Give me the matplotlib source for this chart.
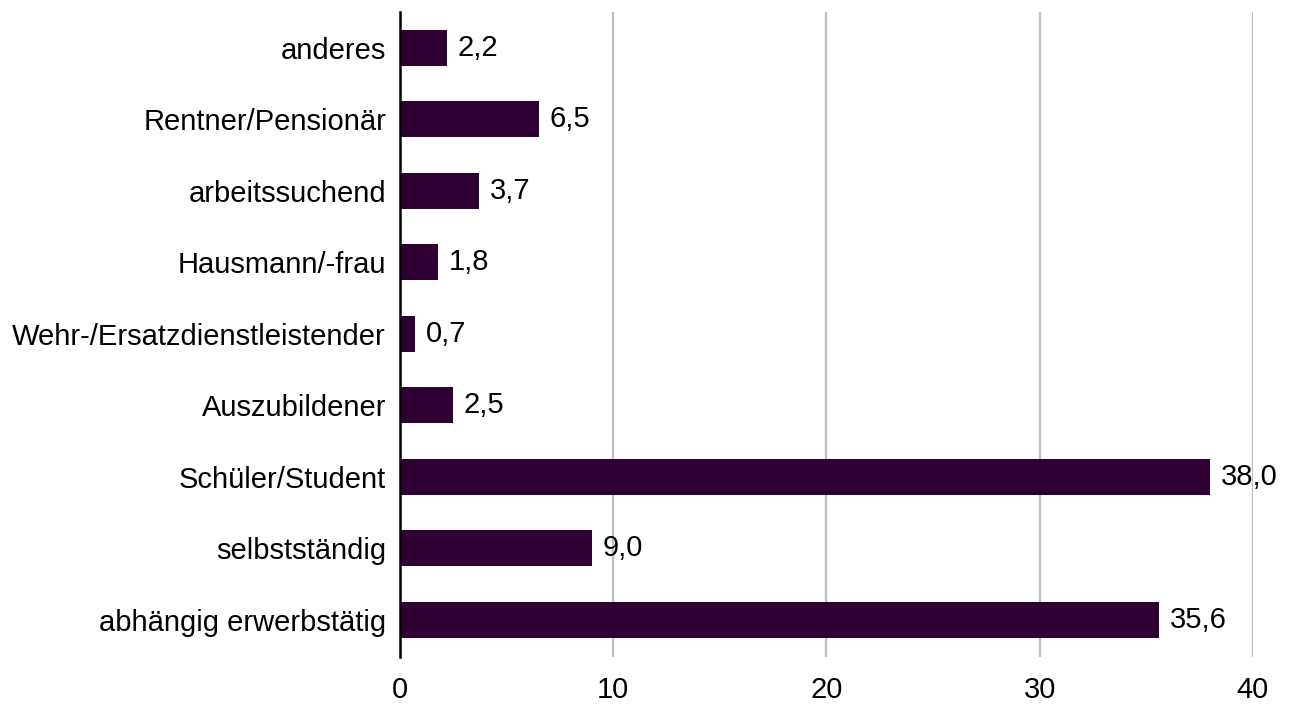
import matplotlib
matplotlib.use("Agg")
import matplotlib.pyplot as plt

# Daten
categories = [
    "abhängig erwerbstätig",
    "selbstständig",
    "Schüler/Student",
    "Auszubildener",
    "Wehr-/Ersatzdienstleistender",
    "Hausmann/-frau",
    "arbeitssuchend",
    "Rentner/Pensionär",
    "anderes",
]
values = [35.6, 9.0, 38.0, 2.5, 0.7, 1.8, 3.7, 6.5, 2.2]
xticks = [0, 10, 20, 30, 40]

plt.rcParams["font.family"] = ["Liberation Sans", "DejaVu Sans"]

fig = plt.figure(figsize=(12.96, 7.04), dpi=100)
ax = fig.add_axes([0.3086, 0.0668, 0.6582, 0.9162])

ypos = range(len(categories))
ax.barh(ypos, values, height=0.5, color="#300034", zorder=3)

for y, v in zip(ypos, values):
    ax.text(v + 0.5, y, f"{v:.1f}".replace(".", ","), va="center", ha="left",
            fontsize=21, color="black")

ax.set_xlim(0, 40)
ax.set_ylim(-0.52, 8.5)
ax.set_xticks(xticks)
ax.set_xticklabels([str(t) for t in xticks])
ax.set_yticks(list(ypos))
ax.set_yticklabels(categories)
ax.tick_params(axis="both", length=0, labelsize=21)
ax.tick_params(axis="y", pad=10)
ax.tick_params(axis="x", pad=14)

ax.grid(axis="x", color="#bfbfbf", linewidth=1.6, zorder=0)
ax.grid(axis="y", visible=False)
for side in ["top", "right", "bottom"]:
    ax.spines[side].set_visible(False)
ax.spines["left"].set_linewidth(1.8)
ax.spines["left"].set_color("black")
ax.spines["left"].set_zorder(4)

fig.savefig("out.png", dpi=100)
plt.close(fig)
